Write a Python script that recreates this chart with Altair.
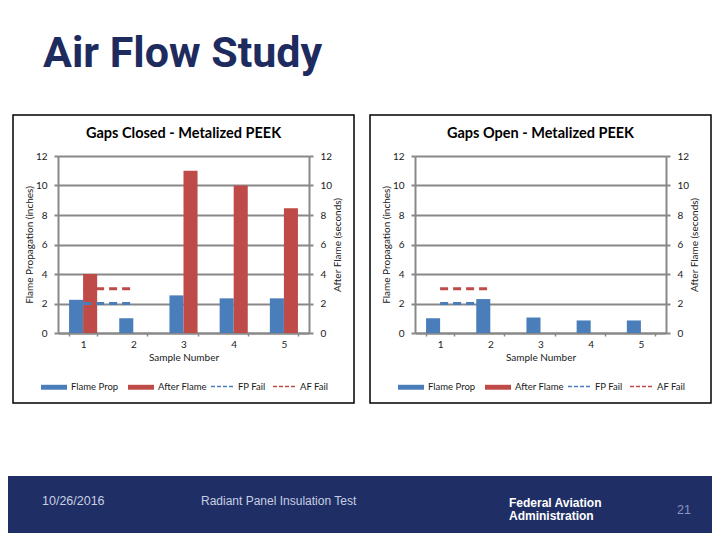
import altair as alt
import pandas as pd

# ---------------- data ----------------
samples = ["1", "2", "3", "4", "5"]
bar_series = ["Flame Prop", "After Flame"]
line_series = ["FP Fail", "AF Fail"]

closed_flame_prop = [2.25, 1.0, 2.55, 2.35, 2.35]
closed_after_flame = [4.0, 0.0, 11.0, 10.0, 8.45]
open_flame_prop = [1.0, 2.3, 1.05, 0.85, 0.85]
open_after_flame = [0.0, 0.0, 0.0, 0.0, 0.0]

fail_samples = ["1", "2"]
fp_fail = [2.0, 2.0]
af_fail = [3.0, 3.0]

y_ticks = [0, 2, 4, 6, 8, 10, 12]
panel_titles = ["Gaps Closed - Metalized PEEK", "Gaps Open - Metalized PEEK"]
slide_title = "Air Flow Study"
footer_date = "10/26/2016"
footer_subject = "Radiant Panel Insulation Test"
footer_agency = ["Federal Aviation", "Administration"]
page_number = "21"

# ---------------- styling ----------------
FONT = "Lato"
SANS = "Liberation Sans, Arial"
BLUE = "#4A7EBB"
RED = "#BE4B48"
GRID = "#888888"
NAVY = "#1F2F66"
TITLE_NAVY = "#1E2B5F"
TXT = "#1a1a1a"
W, H = 251, 177


def y_axis(orient, title, grid, **kw):
    return alt.Axis(
        orient=orient, title=title, values=y_ticks, grid=grid,
        gridColor=GRID, gridWidth=2, domainColor=GRID, domainWidth=2,
        tickColor=GRID, tickWidth=2, tickSize=4,
        labelFont=FONT, labelFontSize=10, labelColor=TXT, labelPadding=7,
        titleFont=FONT, titleFontSize=10, titleFontWeight="normal",
        titleColor=TXT, titlePadding=1, **kw
    )


x_axis = alt.Axis(
    title="Sample Number", labelAngle=0, tickBand="extent", tickSize=3,
    tickColor=GRID, tickWidth=1.5, domainColor=GRID, domainWidth=2,
    labelFont=FONT, labelFontSize=10, labelColor=TXT, labelPadding=3,
    titleFont=FONT, titleFontSize=10, titleFontWeight="normal",
    titleColor=TXT, titlePadding=3,
)

fill_legend = alt.Legend(
    orient="none", legendX=-17, legendY=218, direction="horizontal", title=None,
    symbolType="M-1,-0.19H1V0.19H-1Z", symbolSize=676, symbolStrokeWidth=0,
    labelFont=FONT, labelFontSize=9.5, labelColor=TXT, labelOffset=4,
    columnPadding=9, padding=0,
)
stroke_legend = alt.Legend(
    orient="none", legendX=152, legendY=218, direction="horizontal", title=None,
    symbolType="stroke", symbolSize=529, symbolStrokeWidth=1.5, symbolDash=[4, 2],
    labelFont=FONT, labelFontSize=9.5, labelColor=TXT, labelOffset=3,
    columnPadding=4, padding=0,
)


def panel(title, fp_vals, af_vals):
    bars_df = pd.DataFrame({
        "Sample": samples + samples,
        "Series": [bar_series[0]] * len(samples) + [bar_series[1]] * len(samples),
        "Value": fp_vals + af_vals,
    })
    lines_df = pd.DataFrame({
        "Sample": fail_samples + fail_samples,
        "Series": [line_series[0]] * len(fail_samples) + [line_series[1]] * len(fail_samples),
        "Value": fp_fail + af_fail,
    })
    x_scale = alt.Scale(domain=samples, paddingInner=0.44, paddingOuter=0.22)

    box = alt.Chart(pd.DataFrame({"k": [0]})).mark_rect(
        fill="transparent", stroke="#000000", strokeWidth=1.5
    ).encode(x=alt.value(-45), x2=alt.value(296), y=alt.value(-41), y2=alt.value(247))

    ttl = alt.Chart(pd.DataFrame({"t": [title]})).mark_text(
        font=FONT, fontSize=14.5, fontWeight="bold", color="#000000",
        align="center", baseline="alphabetic"
    ).encode(text="t:N", x=alt.value(W / 2), y=alt.value(-18))

    bars = alt.Chart(bars_df).mark_bar().encode(
        x=alt.X("Sample:N", scale=x_scale, axis=x_axis, title="Sample Number"),
        xOffset=alt.XOffset("Series:N", scale=alt.Scale(domain=bar_series, paddingInner=0, paddingOuter=0)),
        y=alt.Y("Value:Q", scale=alt.Scale(domain=[0, 12], nice=False),
                axis=y_axis("left", "Flame Propagation (inches)", True)),
        fill=alt.Fill("Series:N", scale=alt.Scale(domain=bar_series, range=[BLUE, RED]), legend=fill_legend),
    )

    lines = alt.Chart(lines_df).mark_line(strokeDash=[8, 5], strokeWidth=3).encode(
        x=alt.X("Sample:N", scale=x_scale, axis=x_axis, title="Sample Number", bandPosition=0.5),
        y=alt.Y("Value:Q", scale=alt.Scale(domain=[0, 12], nice=False),
                axis=y_axis("right", "After Flame (seconds)", False,
                            titleAngle=270, titleBaseline="top")),
        stroke=alt.Stroke("Series:N", scale=alt.Scale(domain=line_series, range=[BLUE, RED]), legend=stroke_legend),
    )

    return alt.layer(box, ttl, bars, lines).resolve_scale(y="independent").properties(width=W, height=H)


panels = alt.hconcat(
    panel(panel_titles[0], closed_flame_prop, closed_after_flame),
    panel(panel_titles[1], open_flame_prop, open_after_flame),
    spacing=14,
).resolve_scale(fill="independent", stroke="independent").resolve_legend(fill="independent", stroke="independent")


def ftext(txt, x, y, **kw):
    return alt.Chart(pd.DataFrame({"t": [txt]})).mark_text(
        align="left", baseline="alphabetic", **kw
    ).encode(text="t:N", x=alt.value(x), y=alt.value(y))


# footer origin is aligned with the left panel's plot origin (page x = 58)
band = alt.Chart(pd.DataFrame({"k": [0]})).mark_rect(fill=NAVY).encode(
    x=alt.value(-50), x2=alt.value(654), y=alt.value(0), y2=alt.value(57)
)
agency_df = pd.DataFrame({"t": [footer_agency]})
agency = alt.Chart(agency_df).mark_text(
    align="left", baseline="alphabetic", font=SANS, fontSize=12, fontWeight="bold",
    color="#FFFFFF", lineHeight=13
).encode(text="t", x=alt.value(451), y=alt.value(31))

footer = alt.layer(
    band,
    ftext(footer_date, -16, 29, font=SANS, fontSize=12.5, color="#C8CEE2"),
    ftext(footer_subject, 143, 29, font=SANS, fontSize=12, color="#C8CEE2"),
    agency,
    ftext(page_number, 619, 38, font=SANS, fontSize=12.5, color="#8A94BC"),
).properties(width=600, height=57)

chart = alt.vconcat(panels, footer, spacing=72).properties(
    title=alt.TitleParams(
        text=slide_title, anchor="start", fontSize=43, font="Roboto", fontWeight="bold",
        color=TITLE_NAVY, dx=35, offset=38,
    ),
    padding={"top": 25, "left": 0, "right": 0, "bottom": 0},
).configure_view(stroke=None)

chart.save("out.html", embed_options={"renderer": "svg", "actions": False})
